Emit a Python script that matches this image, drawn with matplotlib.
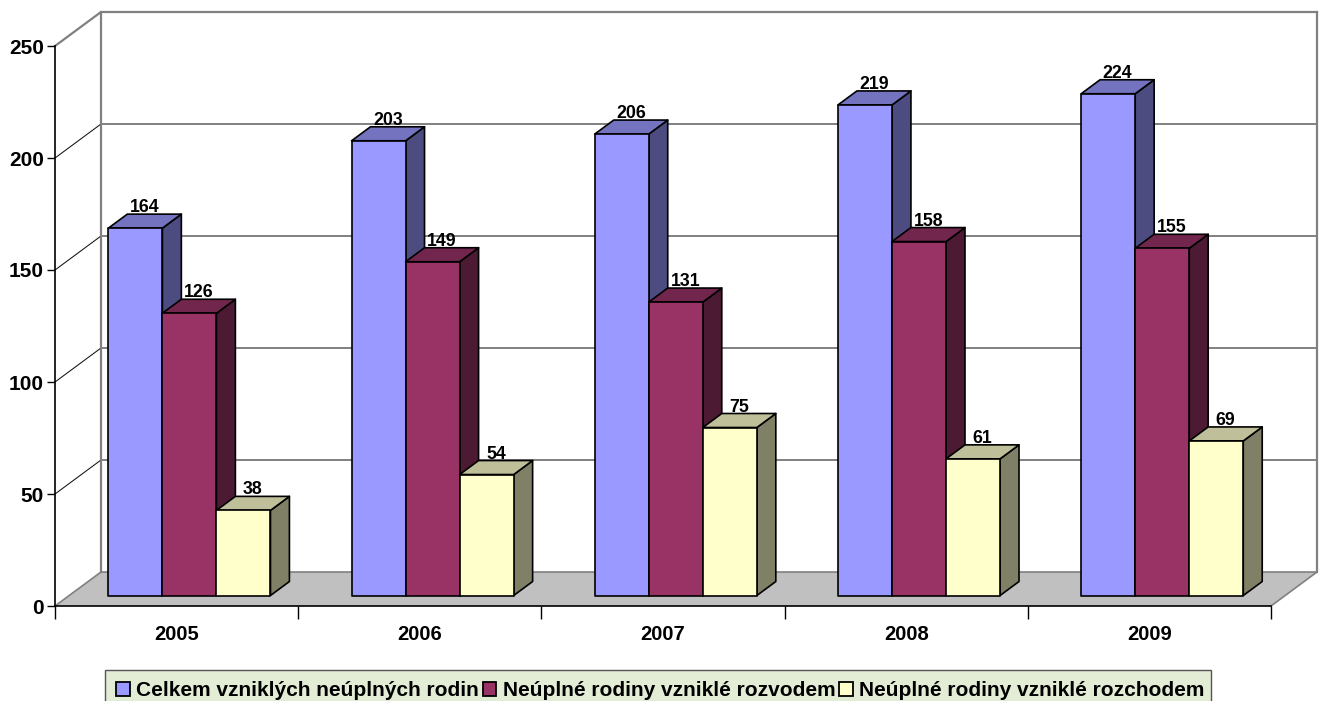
import matplotlib
matplotlib.use("Agg")
import matplotlib.pyplot as plt
from matplotlib.patches import Polygon, Patch, Rectangle

plt.rcParams['font.family'] = ['Liberation Sans', 'DejaVu Sans']

years = ['2005', '2006', '2007', '2008', '2009']
celkem = [164, 203, 206, 219, 224]
rozvod = [126, 149, 131, 158, 155]
rozchod = [38, 54, 75, 61, 69]
names = ['Celkem vzniklých neúplných rodin', 'Neúplné rodiny vzniklé rozvodem', 'Neúplné rodiny vzniklé rozchodem']
yticks = [0, 50, 100, 150, 200, 250]

# front, top, side colours of each series
colors = [('#9999FF', '#7373BF', '#4C4C80'),
          ('#993366', '#73264D', '#4C1A33'),
          ('#FFFFCC', '#BFBF99', '#808066')]

W, H = 1324, 701
fig = plt.figure(figsize=(W / 100, H / 100), dpi=100)
ax = fig.add_axes([55 / W, (H - 606) / H, 1216 / W, 560 / H])
ax.set_xlim(0, 5)
ax.set_ylim(0, 250)

# depth of the fake 3d box, in data units
DX = 46 / 243.2
DY = 34 / 2.24


def pt(x, v, d):
    return (x + d * DX, v + d * DY)


# floor
ax.add_patch(Polygon([pt(0, 0, 0), pt(5, 0, 0), pt(5, 0, 1), pt(0, 0, 1)], fc='#C0C0C0', ec='none', clip_on=False, zorder=1))

# walls and gridlines
for v in yticks[1:]:
    col = '#808080' if v == 250 else '#111111'
    lw = 1.6 if v == 250 else 0.75
    ax.plot(*zip(pt(0, v, 0), pt(0, v, 1), pt(5, v, 1)), color=col, lw=lw, clip_on=False, zorder=1.5)
ax.plot(*zip(pt(0, 0, 0), pt(0, 0, 1), pt(5, 0, 1), pt(5, 0, 0)), color='#808080', lw=1.2, clip_on=False, zorder=1.5)
ax.plot(*zip(pt(0, 0, 1), pt(0, 250, 1)), color='#808080', lw=1.6, clip_on=False, zorder=1.5)
ax.plot(*zip(pt(5, 0, 1), pt(5, 250, 1)), color='#808080', lw=1.6, clip_on=False, zorder=1.5)

# bars
d0 = 10.5 / 34
d1 = 24.5 / 34
start = 0.161
bw = 0.2222
series = [celkem, rozvod, rozchod]
for i in range(len(years)):
    for j in range(3):
        v = series[j][i]
        x0 = i + start + j * bw
        x1 = x0 + bw
        front, top, side = colors[j]
        kw = dict(ec='black', lw=1.2, clip_on=False, zorder=3, joinstyle='round')
        ax.add_patch(Polygon([pt(x1, 0, d0), pt(x1, 0, d1), pt(x1, v, d1), pt(x1, v, d0)], fc=side, **kw))
        ax.add_patch(Polygon([pt(x0, v, d0), pt(x1, v, d0), pt(x1, v, d1), pt(x0, v, d1)], fc=top, **kw))
        ax.add_patch(Polygon([pt(x0, 0, d0), pt(x1, 0, d0), pt(x1, v, d0), pt(x0, v, d0)], fc=front, **kw))
        lx, ly = pt((x0 + x1) / 2, v, d1)
        ax.text(lx - 0.5 * (d1 - d0) * DX, ly - 0.9, str(v), ha='center', va='bottom', fontsize=12.8,
                fontweight='bold', zorder=4, clip_on=False)

for s in ['top', 'right']:
    ax.spines[s].set_visible(False)
for s in ['left', 'bottom']:
    ax.spines[s].set_linewidth(1.2)
    ax.spines[s].set_zorder(2)

ax.set_yticks(yticks)
ax.set_yticklabels([str(v) for v in yticks], fontsize=15, fontweight='bold')
ax.tick_params(axis='y', length=6, width=1, pad=2, left=True)
ax.set_xticks(range(6))
ax.set_xticklabels([])
ax.tick_params(axis='x', length=9, width=1)
ax.set_xticks([i + 0.5 for i in range(5)], minor=True)
ax.set_xticklabels(years, minor=True, fontsize=14.5, fontweight='bold')
ax.tick_params(axis='x', which='minor', length=0, pad=14)

# legend box is drawn apart so the text can sit low in it
fig.add_artist(Rectangle((105 / W, -2 / H), 1106 / W, 33 / H, transform=fig.transFigure,
                         fc='#E3ECD5', ec='#555555', lw=1))
handles = [Patch(fc=colors[j][0], ec='black', lw=1.3) for j in range(3)]
leg = fig.legend(handles, names, ncol=3, loc='lower left', bbox_to_anchor=(116 / W, 1 / H), bbox_transform=fig.transFigure,
                 frameon=False, borderaxespad=0, borderpad=0, columnspacing=0.2, handletextpad=0.3,
                 handlelength=0.65, handleheight=0.65, prop={'size': 15, 'weight': 'bold'})

fig.savefig('out.png', dpi=100, facecolor='white')
